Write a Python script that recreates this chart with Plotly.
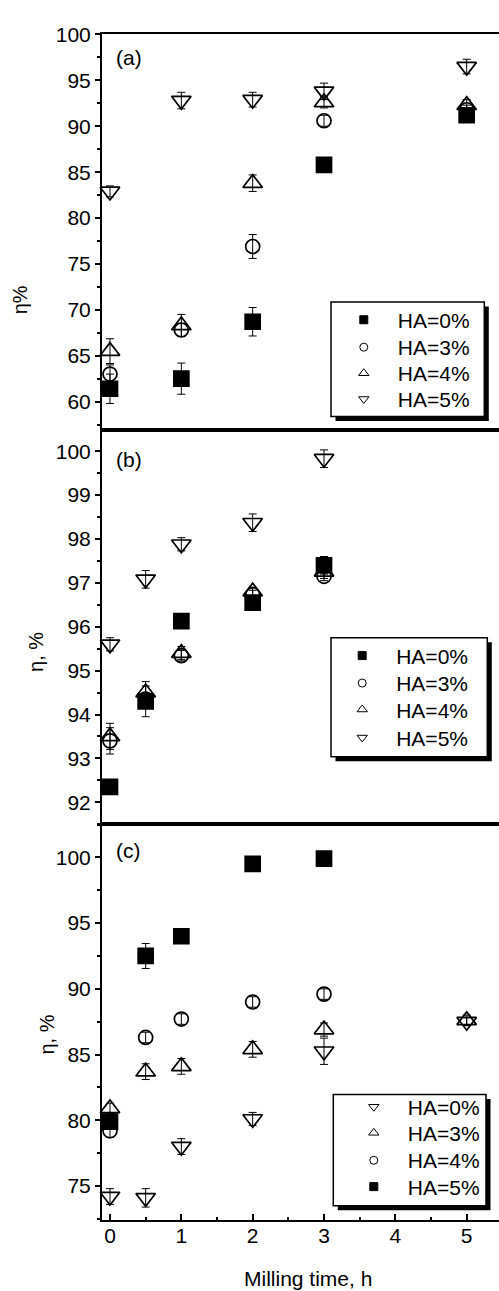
import plotly.graph_objects as go

W, H = 499, 1291

# ---- efficiency (%) vs milling time (h), three panels ----
time_a = [0, 1, 2, 3, 5]
a_ha0 = [61.4, 62.5, 68.7, 85.8, 91.2]
a_ha0_err = [1.6, 1.7, 1.55, 0.4, 0.4]
a_ha3 = [63.0, 67.8, 76.9, 90.6, 91.8]
a_ha3_err = [1.0, 0.7, 1.3, 0.6, 0.5]
a_ha4 = [65.5, 68.3, 83.8, 92.6, 92.3]
a_ha4_err = [1.35, 1.2, 0.9, 0.6, 0.6]
a_ha5 = [82.9, 92.8, 92.9, 93.8, 96.5]
a_ha5_err = [0.6, 0.9, 0.8, 0.9, 0.8]

time_b = [0, 0.5, 1, 2, 3]
b_ha0 = [92.35, 94.3, 96.13, 96.55, 97.4]
b_ha0_err = [0.1, 0.35, 0.1, 0.1, 0.2]
b_ha3 = [93.4, 94.35, 95.34, 96.73, 97.15]
b_ha3_err = [0.3, 0.15, 0.12, 0.1, 0.1]
b_ha4 = [93.5, 94.5, 95.4, 96.8, 97.25]
b_ha4_err = [0.3, 0.25, 0.15, 0.1, 0.15]
b_ha5 = [95.6, 97.08, 97.88, 98.37, 99.83]
b_ha5_err = [0.15, 0.2, 0.15, 0.2, 0.2]

time_c = [0, 0.5, 1, 2, 3, 5]
c_ha0 = [74.2, 74.1, 78.0, 80.1, 85.25, 87.5]
c_ha0_err = [0.6, 0.7, 0.6, 0.5, 1.0, 0.3]
c_ha3 = [80.9, 83.7, 84.1, 85.4, 86.9, 87.6]
c_ha3_err = [0.4, 0.6, 0.6, 0.6, 0.5, 0.4]
time_c45 = [0, 0.5, 1, 2, 3]
c_ha4 = [79.2, 86.3, 87.7, 89.0, 89.6]
c_ha4_err = [0.5, 0.4, 0.4, 0.4, 0.4]
c_ha5 = [79.9, 92.5, 94.0, 99.5, 99.9]
c_ha5_err = [0.3, 0.95, 0.4, 0.2, 0.2]

labels_ab = ["HA=0%", "HA=3%", "HA=4%", "HA=5%"]
labels_c = ["HA=0%", "HA=3%", "HA=4%", "HA=5%"]
x_ticks = [0, 1, 2, 3, 4, 5]

FONT = "Arial, 'Liberation Sans', Helvetica, sans-serif"


def px_x(p):
    """pixel column -> paper x"""
    return p / W


def px_y(p):
    """pixel row (from top) -> paper y"""
    return 1 - p / H


SYM = {
    "square": ("square", 15),
    "circle": ("circle-open", 14),
    "up": ("triangle-up-open", 17),
    "down": ("triangle-down-open", 17),
}
LEG_SIZE = {"square": 8, "circle": 8, "up": 9, "down": 9}

fig = go.Figure()

# one legend per entry so that the row spacing can be set freely
legend_rows = []  # (legend id, marker x px, row centre y px)


def add_series(x, y, err, kind, name, axis_idx, marker_x, row_y):
    sym, size = SYM[kind]
    xa = "x" if axis_idx == 1 else f"x{axis_idx}"
    ya = "y" if axis_idx == 1 else f"y{axis_idx}"
    fig.add_trace(go.Scatter(
        x=x, y=y, mode="markers", xaxis=xa, yaxis=ya, showlegend=False,
        marker=dict(symbol=sym, size=size, color="black",
                    line=dict(color="black", width=1.7)),
        error_y=dict(type="data", array=err, visible=True, color="black",
                     thickness=1, width=4),
        cliponaxis=False,
    ))
    n = len(legend_rows) + 1
    leg_id = "legend" if n == 1 else f"legend{n}"
    legend_rows.append((leg_id, marker_x, row_y))
    # small-symbol legend entry
    fig.add_trace(go.Scatter(
        x=[None], y=[None], mode="markers", xaxis=xa, yaxis=ya, name=name,
        legend=leg_id, showlegend=True,
        marker=dict(symbol=sym, size=LEG_SIZE[kind], color="black",
                    line=dict(color="black", width=1)),
    ))


# panel (a)
rows_a = [313.3, 341.0, 367.3, 393.3]
add_series(time_a, a_ha0, a_ha0_err, "square", labels_ab[0], 1, 363.3, rows_a[0])
add_series(time_a, a_ha3, a_ha3_err, "circle", labels_ab[1], 1, 363.3, rows_a[1])
add_series(time_a, a_ha4, a_ha4_err, "up", labels_ab[2], 1, 363.3, rows_a[2])
add_series(time_a, a_ha5, a_ha5_err, "down", labels_ab[3], 1, 363.3, rows_a[3])
# panel (b)
rows_b = [652.3, 680.0, 706.7, 735.0]
add_series(time_b, b_ha0, b_ha0_err, "square", labels_ab[0], 2, 361.7, rows_b[0])
add_series(time_b, b_ha3, b_ha3_err, "circle", labels_ab[1], 2, 361.7, rows_b[1])
add_series(time_b, b_ha4, b_ha4_err, "up", labels_ab[2], 2, 361.7, rows_b[2])
add_series(time_b, b_ha5, b_ha5_err, "down", labels_ab[3], 2, 361.7, rows_b[3])
# panel (c)
rows_c = [1107.7, 1134.0, 1161.7, 1188.3]
add_series(time_c, c_ha0, c_ha0_err, "down", labels_c[0], 3, 373.3, rows_c[0])
add_series(time_c, c_ha3, c_ha3_err, "up", labels_c[1], 3, 373.3, rows_c[1])
add_series(time_c45, c_ha4, c_ha4_err, "circle", labels_c[2], 3, 373.3, rows_c[2])
add_series(time_c45, c_ha5, c_ha5_err, "square", labels_c[3], 3, 373.3, rows_c[3])

x_dom = [px_x(102), 1.0]
x_rng = [-0.112, 5.453]
panels = [
    # (top px, bottom px, y range, major step, minor step)
    (22.7, 421.7, [56.93, 100.0], 5, 2.5),
    (421.7, 820.0, [91.497, 100.488], 1, 0.5),
    (820.0, 1219.0, [72.44, 102.51], 5, 2.5),
]

axis_common = dict(showgrid=False, zeroline=False, showline=True,
                   linecolor="black", linewidth=2,
                   tickfont=dict(family=FONT, size=21, color="black"))

layout = dict(
    width=W, height=H, autosize=False,
    margin=dict(l=0, r=0, t=0, b=0, pad=0),
    paper_bgcolor="white", plot_bgcolor="white",
    font=dict(family=FONT, color="black"),
)

for i, (top, bot, yr, dt, mdt) in enumerate(panels, start=1):
    xk = "xaxis" if i == 1 else f"xaxis{i}"
    yk = "yaxis" if i == 1 else f"yaxis{i}"
    last = i == 3
    layout[xk] = dict(
        axis_common, domain=x_dom, range=x_rng, anchor="y" if i == 1 else f"y{i}",
        mirror=True, tickmode="array", tickvals=x_ticks,
        ticks="inside" if last else "", ticklen=6, tickwidth=1.5,
        tickcolor="black", showticklabels=last, ticklabelstandoff=-4,
        minor=dict(ticks="inside" if last else "", ticklen=3, tickwidth=1.5,
                   dtick=0.5, tick0=0, tickcolor="black"),
    )
    layout[yk] = dict(
        axis_common, domain=[px_y(bot), px_y(top)], range=yr,
        anchor="x" if i == 1 else f"x{i}",
        tickmode="linear", tick0=0, dtick=dt,
        ticks="outside", ticklen=5, tickwidth=1.5, tickcolor="black",
        ticklabelstandoff=0,
        minor=dict(ticks="outside", ticklen=3, tickwidth=1.5, dtick=mdt,
                   tick0=0, tickcolor="black"),
    )

# legends: one entry each, placed by marker x and row centre
leg_font = dict(family=FONT, size=21, color="black")
for leg_id, mx, ry in legend_rows:
    layout[leg_id] = dict(
        x=px_x(mx - 33.5), y=px_y(ry - 23), xanchor="left", yanchor="top",
        xref="paper", yref="paper",
        bgcolor="rgba(0,0,0,0)", borderwidth=0, font=leg_font,
        itemwidth=58,
    )

# legend frames with drop shadow
boxes = [(331, 484.3, 292.7, 408.3), (331, 487.3, 631.7, 751.7), (333.3, 486, 1092.7, 1205)]
shapes = []
for x0, x1, y0, y1 in boxes:
    off = 4.5
    shapes.append(dict(type="rect", xref="paper", yref="paper", layer="above",
                       x0=px_x(x0 + off), x1=px_x(x1 + off),
                       y0=px_y(y1 + off), y1=px_y(y0 + off),
                       fillcolor="black", line=dict(width=0)))
    shapes.append(dict(type="rect", xref="paper", yref="paper", layer="above",
                       x0=px_x(x0), x1=px_x(x1), y0=px_y(y1), y1=px_y(y0),
                       fillcolor="white", line=dict(color="black", width=1.5)))
layout["shapes"] = shapes

annotations = []
# panel tags
for txt, yc in [("(a)", 46), ("(b)", 451.3), ("(c)", 846.3)]:
    annotations.append(dict(text=txt, x=px_x(114), y=px_y(yc), xref="paper", yref="paper",
                            xanchor="left", yanchor="middle", showarrow=False,
                            font=dict(family=FONT, size=21, color="black")))
# y titles
for txt, xc, yc in [("η%", 20, 291), ("η, %", 36, 646), ("η, %", 46.7, 1032.5)]:
    annotations.append(dict(text=txt, x=px_x(xc), y=px_y(yc), xref="paper", yref="paper",
                            xanchor="center", yanchor="middle", textangle=-90,
                            showarrow=False, font=dict(family=FONT, size=20, color="black")))
# x title
annotations.append(dict(text="Milling time, h", x=px_x(307.5), y=px_y(1278), xref="paper",
                        yref="paper", xanchor="center", yanchor="middle", showarrow=False,
                        font=dict(family=FONT, size=21, color="black")))
layout["annotations"] = annotations

fig.update_layout(layout)
fig.write_html("out.html")
